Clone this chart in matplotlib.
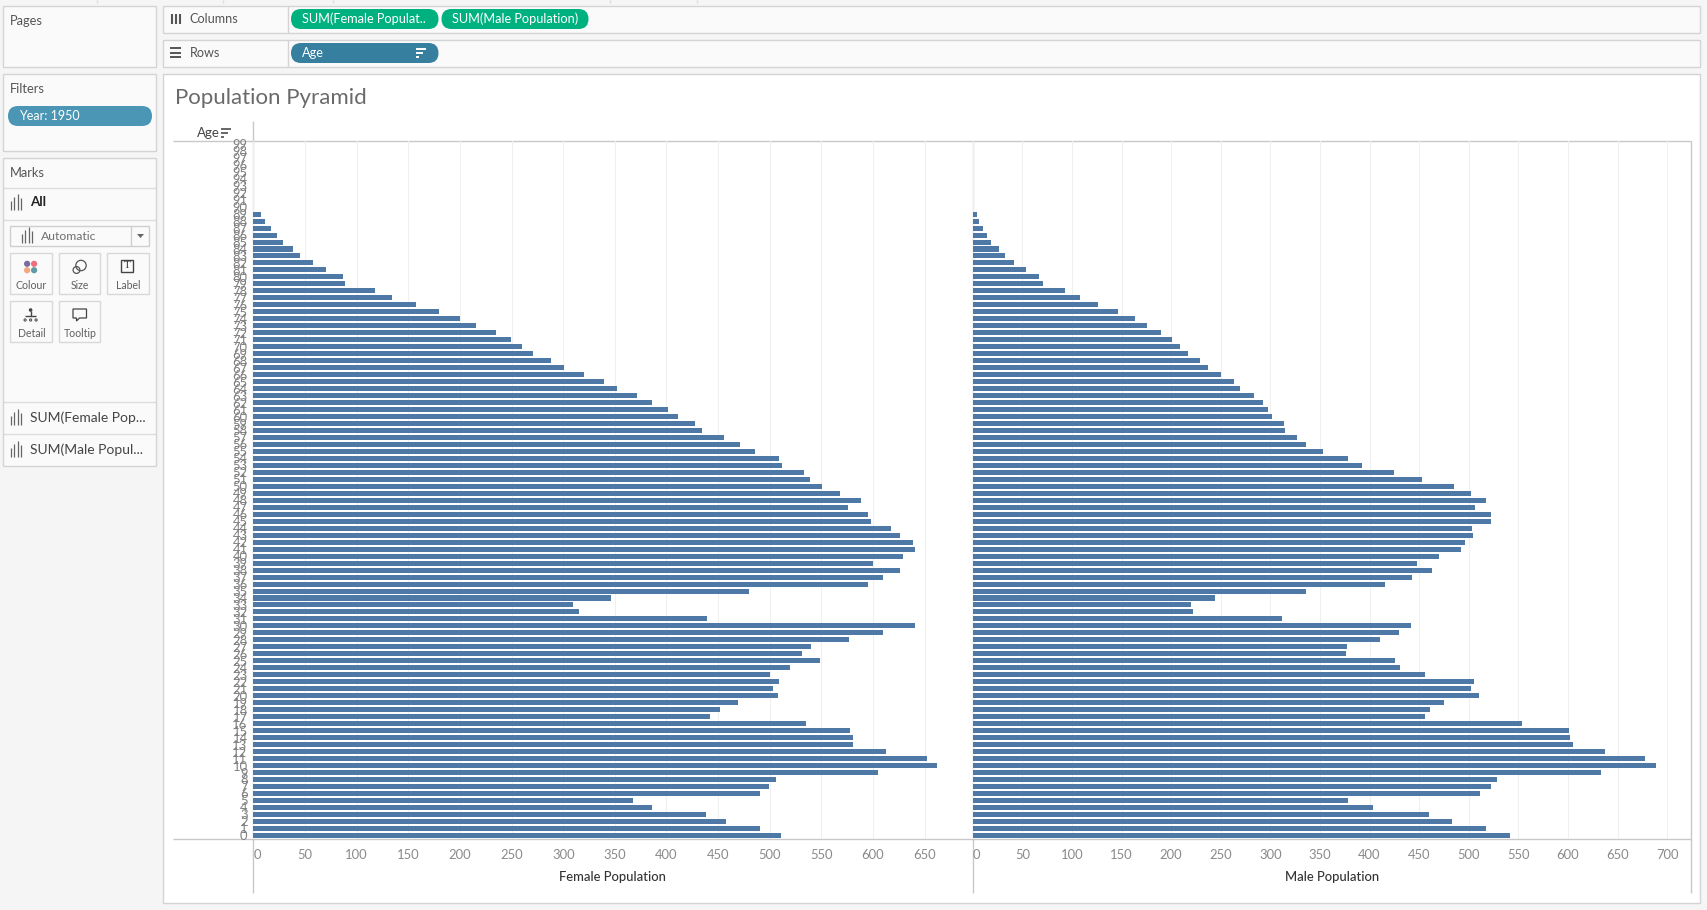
"""
Tableau worksheet screenshot: population pyramid, year 1950.
Two bar panes plus the shelves and cards around them.
"""
import matplotlib
matplotlib.use("Agg")
import matplotlib.pyplot as plt
from matplotlib.patches import FancyBboxPatch, Rectangle, Circle, Polygon

W, H = 1708, 910
plt.rcParams["font.family"] = ["Lato", "DejaVu Sans"]

ages = list(range(100))
female_pop = [511, 491, 458, 438, 386, 368, 491, 499, 506, 605,
              662, 652, 613, 581, 581, 578, 535, 442, 452, 469,
              508, 503, 509, 500, 520, 549, 531, 540, 577, 610,
              641, 439, 315, 309, 346, 480, 595, 610, 626, 600,
              629, 641, 639, 626, 617, 598, 595, 576, 588, 568,
              551, 539, 533, 512, 509, 486, 471, 456, 434, 428,
              411, 401, 386, 371, 352, 339, 320, 301, 288, 271,
              260, 249, 235, 216, 200, 180, 157, 134, 118, 89,
              87, 70, 58, 45, 38.5, 29, 23, 17, 11.5, 7.4,
              0, 0, 0, 0, 0, 0, 0, 0, 0, 0]
male_pop = [541, 517, 483, 460, 403, 378, 511, 522, 528, 633,
            689, 678, 637, 605, 602, 601, 554, 456, 461, 475,
            510, 502, 505, 456, 431, 426, 376, 377, 410, 430,
            442, 312, 222, 220, 244, 336, 416, 443, 463, 448,
            470, 492, 496, 504, 503, 522, 522, 506, 517, 502,
            485, 453, 425, 392, 378, 353, 336, 327, 315, 314,
            302, 298, 293, 283, 269, 263, 250, 237, 229, 217,
            209, 201, 190, 176, 164, 146, 126, 108, 93, 71,
            67, 54, 42, 33, 26.5, 18.5, 14.4, 10.4, 6.4, 4.4,
            0, 0, 0, 0, 0, 0, 0, 0, 0, 0]
female_ticks = list(range(0, 651, 50))
male_ticks = list(range(0, 701, 50))

BAR = "#4e79a7"
BORDER = "#d4d4d4"
AXIS = "#c8c8c8"
GRID = "#f0f0f0"
TXT = "#555555"

fig = plt.figure(figsize=(W / 100, H / 100), dpi=100, facecolor="#f5f5f5")
ui = fig.add_axes([0, 0, 1, 1])
ui.set_xlim(0, W)
ui.set_ylim(H, 0)
ui.axis("off")


def box(x0, y0, x1, y1, fc="#fafafa", ec=BORDER, lw=1.0):
    ui.add_patch(Rectangle((x0, y0), x1 - x0, y1 - y0, fc=fc, ec=ec, lw=lw))


def line(x0, y0, x1, y1, color=AXIS, lw=1.0):
    ui.plot([x0, x1], [y0, y1], color=color, lw=lw, solid_capstyle="butt")


def pill(x0, y0, x1, y1, color):
    r = (y1 - y0) / 2
    ui.add_patch(FancyBboxPatch((x0 + r, y0 + r), x1 - x0 - 2 * r, 0,
                                boxstyle="round,pad=%f,rounding_size=%f" % (r, r),
                                fc=color, ec="none"))


def label(x, y, s, size=9.3, color=TXT, ha="left", **kw):
    ui.text(x, y, s, fontsize=size, color=color, ha=ha, va="center", **kw)


def bars_icon(x, y, color="#666666"):
    for dx, h in zip((0, 3.5, 7, 10.5), (9, 13, 16, 12)):
        line(x + dx, y + 8, x + dx, y + 8 - h, color=color, lw=0.9)


def sort_icon(x, y, color="#666666"):
    for dy, w in zip((-4, 0, 4), (10, 7, 3)):
        line(x, y + dy, x + w, y + dy, color=color, lw=1.4)


# top strip
for tx in (97, 223, 333, 610, 697):
    line(tx, 0, tx, 3, color="#dddddd")

# left cards
box(3.5, 5.5, 156.5, 66.5)
box(3.5, 73.5, 156.5, 150.5)
box(3.5, 157.5, 156.5, 465.5)
label(10, 21, "Pages", 9.3)
label(10, 89, "Filters", 9.3)
label(10, 173, "Marks", 9.3)
pill(8, 106, 152, 126, "#4a96b4")
label(19, 115.7, "Year: 1950", 9.0, color="white")

for sy in (187.5, 219.5, 401.5, 433.5):
    line(3.5, sy, 156.5, sy, color="#dcdcdc")
bars_icon(11, 202)
label(30.5, 202, "All", 9.6, color="#222222", fontweight="bold")

box(10.5, 225.5, 149.5, 245.5, fc="#fafafa", ec="#cfcfcf")
line(131.5, 225.5, 131.5, 245.5, color="#cfcfcf")
bars_icon(22, 235)
label(40.5, 236, "Automatic", 8.8, color="#707070")
ui.add_patch(Polygon([[137, 234], [144, 234], [140.5, 238]], fc="#666666", ec="none"))

for x0, x1, y0, y1, name in ((10.5, 52.5, 252.5, 293.5, "Colour"),
                             (59.5, 100.5, 252.5, 293.5, "Size"),
                             (107.5, 149.5, 252.5, 293.5, "Label"),
                             (10.5, 52.5, 300.5, 341.5, "Detail"),
                             (59.5, 100.5, 300.5, 341.5, "Tooltip")):
    box(x0, y0, x1, y1, fc="#fafafa", ec="#d8d8d8")
    label((x0 + x1) / 2, y1 - 8, name, 7.6, color="#606060", ha="center")

for dx, dy, c in ((-3.5, -3.2, "#7b6a9c"), (3.5, -3.2, "#ef6f7c"),
                  (-3.5, 3.2, "#f2a77c"), (3.5, 3.2, "#5f9aa8")):
    ui.add_patch(Circle((30.6 + dx, 267 + dy), 3.1, fc=c, ec="none"))
ui.add_patch(Circle((81, 265.5), 5.2, fc="none", ec="#555555", lw=0.9))
ui.add_patch(Circle((76.5, 270), 3.4, fc="none", ec="#555555", lw=0.9))
box(121.5, 260, 133.5, 272, fc="none", ec="#444444")
label(127.5, 266, "T", 8, color="#333333", ha="center", family="Liberation Serif")
ui.add_patch(Circle((30.6, 310), 1.8, fc="#444444", ec="none"))
line(30.6, 311, 30.6, 316, color="#444444")
line(25, 316, 36, 316, color="#444444")
for dx in (-5.5, 0, 5.5):
    ui.add_patch(Circle((30.6 + dx, 320), 1.1, fc="none", ec="#444444", lw=0.7))
ui.add_patch(Polygon([[73, 309], [86.5, 309], [86.5, 318], [79.5, 318], [76.5, 321], [76.5, 318], [73, 318]],
                     fc="none", ec="#444444", lw=0.9))

bars_icon(11, 417)
label(30.5, 417.3, "SUM(Female Pop...", 10.0, color="#444444")
bars_icon(11, 449)
label(30.5, 449.3, "SUM(Male Popul...", 10.0, color="#444444")

# shelves
box(163.5, 5.5, 1700, 32.5)
box(163.5, 39.5, 1700, 66.5)
line(288.5, 5.5, 288.5, 32.5, color=BORDER)
line(288.5, 39.5, 288.5, 66.5, color=BORDER)
for dx in (0, 4, 8):
    line(172 + dx, 14, 172 + dx, 24, color="#555555", lw=1.5)
label(189.5, 19, "Columns", 9.1)
for ly in (48, 52.5, 57):
    line(170, ly, 181, ly, color="#555555", lw=1.4)
label(189.5, 52.7, "Rows", 9.1)
pill(291, 9, 438.5, 29, "#00b180")
pill(441.5, 9, 588.5, 29, "#00b180")
pill(291, 43, 438.5, 63, "#377f9f")
label(302, 19, "SUM(Female Populat..", 9.2, color="white")
label(452, 19, "SUM(Male Population)", 9.2, color="white")
label(302, 52.7, "Age", 9.2, color="white")
sort_icon(416, 52.7, color="white")

# main sheet
box(163.5, 73.5, 1700, 903, fc="white")
label(175, 98.5, "Population Pyramid", 16, color="#6a6a6a")
label(196.5, 133, "Age", 9.6, color="#444444")
sort_icon(221.5, 132.5)

Y_TOP, Y_BOT = 141.3, 839.3
line(173, Y_TOP, 1691.3, Y_TOP)
line(173, Y_BOT, 1691.3, Y_BOT)
line(253.4, 121, 253.4, 893)
line(972.6, 141, 972.6, 893)
line(1691.3, 141, 1691.3, 893)


def pane(x0, x1, xmax, values, ticks, xlabel):
    ax = fig.add_axes([x0 / W, 1 - Y_BOT / H, (x1 - x0) / W, (Y_BOT - Y_TOP) / H])
    ax.patch.set_alpha(0)
    ax.barh(ages, values, height=0.72, color=BAR, edgecolor="none")
    ax.set_xlim(0, xmax)
    ax.set_ylim(-0.57, 99.43)
    ax.set_xticks(ticks)
    ax.tick_params(axis="x", length=0, pad=7, labelsize=9.4, labelcolor="#8a8a8a")
    ax.get_xticklabels()[0].set_ha("left")
    ax.grid(True, axis="x", color=GRID, lw=0.8)
    ax.set_axisbelow(True)
    ax.set_xlabel(xlabel, fontsize=9.4, color="#333333", fontweight="medium", labelpad=7)
    for s in ax.spines.values():
        s.set_visible(False)
    return ax


ax_f = pane(253.4, 972.4, 696.2, female_pop, female_ticks, "Female Population")
ax_m = pane(972.7, 1691.3, 724.2, male_pop, male_ticks, "Male Population")
ax_f.set_yticks(ages)
ax_f.set_yticklabels([str(a) for a in ages])
ax_f.tick_params(axis="y", length=0, pad=4.2, labelsize=9.4, labelcolor="#808080")
ax_m.set_yticks([])

fig.savefig("out.png", dpi=100, facecolor=fig.get_facecolor())
